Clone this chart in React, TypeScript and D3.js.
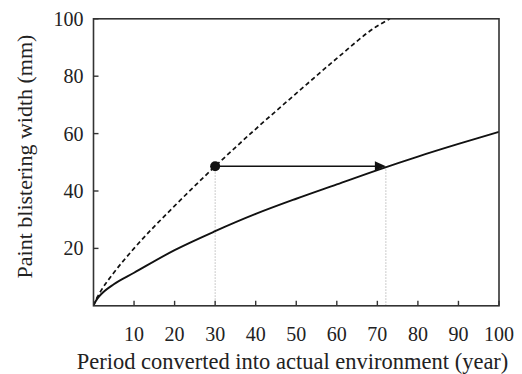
import React from "react";
import * as d3 from "d3";

const W = 522;
const H = 374;

const xTicks = [10, 20, 30, 40, 50, 60, 70, 80, 90, 100];
const yTicks = [20, 40, 60, 80, 100];

// actual-environment curve (solid)
const solidX = [0, 0.5, 1, 2, 5, 10, 20, 30, 40, 50, 60, 70, 80, 90, 100];
const solidY = [0, 1.5, 2.6, 4.2, 7.5, 11.5, 19.4, 26.0, 32.0, 37.3, 42.3, 47.3, 52.0, 56.4, 60.6];

// accelerated curve (dashed)
const dashX = [0, 0.5, 1, 2, 5, 10, 20, 30, 40, 50, 60, 70, 73.1];
const dashY = [0, 1.8, 3.2, 5.6, 11.5, 20.0, 34.8, 48.6, 61.6, 74.0, 86.2, 97.5, 100];

const markerPoint = { x: 30, y: 48.6 };
const arrowEnd = { x: 72.1, y: 48.6 };

export default function App() {
  const m = { left: 93.5, right: 499, top: 18.8, bottom: 305.8 };
  const x = d3.scaleLinear().domain([0, 100]).range([m.left, m.right]);
  const y = d3.scaleLinear().domain([0, 100]).range([m.bottom, m.top]);
  const line = d3
    .line<[number, number]>()
    .x((d) => x(d[0]))
    .y((d) => y(d[1]))
    .curve(d3.curveMonotoneX);
  const solid = line(solidX.map((v, i) => [v, solidY[i]]) as [number, number][]);
  const dashed = line(dashX.map((v, i) => [v, dashY[i]]) as [number, number][]);
  const font = "'Liberation Serif', 'Times New Roman', 'DejaVu Serif', serif";
  const ax = x(arrowEnd.x);
  const ay = y(arrowEnd.y);

  return (
    <svg width={W} height={H} style={{ position: "absolute", left: 0, top: 0, background: "#fff" }}>
      <defs>
        <clipPath id="plot">
          <rect x={m.left} y={m.top} width={m.right - m.left} height={m.bottom - m.top} />
        </clipPath>
      </defs>
      {/* guide lines */}
      <line x1={x(markerPoint.x)} x2={x(markerPoint.x)} y1={y(markerPoint.y)} y2={m.bottom} stroke="#aaa" strokeWidth={0.8} strokeDasharray="1.5,1.5" />
      <line x1={ax} x2={ax} y1={ay} y2={m.bottom} stroke="#aaa" strokeWidth={0.8} strokeDasharray="1.5,1.5" />
      <g clipPath="url(#plot)">
        <path d={solid || ""} fill="none" stroke="#111" strokeWidth={1.9} />
        <path d={dashed || ""} fill="none" stroke="#111" strokeWidth={1.7} strokeDasharray="4.5,3" />
      </g>
      {/* arrow */}
      <line x1={x(markerPoint.x)} x2={ax - 10} y1={y(markerPoint.y)} y2={ay} stroke="#111" strokeWidth={1.4} />
      <path d={`M${ax},${ay} L${ax - 11},${ay - 5} L${ax - 11},${ay + 4.5} Z`} fill="#111" />
      <circle cx={x(markerPoint.x)} cy={y(markerPoint.y)} r={5} fill="#111" />
      {/* frame */}
      <rect x={m.left} y={m.top} width={m.right - m.left} height={m.bottom - m.top} fill="none" stroke="#333" strokeWidth={1.6} />
      {xTicks.map((t) => (
        <g key={"x" + t}>
          <line x1={x(t)} x2={x(t)} y1={m.bottom} y2={m.bottom - 5} stroke="#333" strokeWidth={1.4} />
          <text x={x(t)} y={341} textAnchor="middle" fontFamily={font} fontSize={20} fill="#222">{t}</text>
        </g>
      ))}
      {yTicks.map((t) => (
        <g key={"y" + t}>
          <line x1={m.left} x2={m.left + 5} y1={y(t)} y2={y(t)} stroke="#333" strokeWidth={1.4} />
          <text x={83.5} y={y(t) + 7} textAnchor="end" fontFamily={font} fontSize={20} fill="#222">{t}</text>
        </g>
      ))}
      <text x={292.5} y={369} textAnchor="middle" fontFamily={font} fontSize={22.5} fill="#222">
        Period converted into actual environment (year)
      </text>
      <text transform={`translate(32,156.5) rotate(-90)`} textAnchor="middle" fontFamily={font} fontSize={22} fill="#222">
        Paint blistering width (mm)
      </text>
    </svg>
  );
}
